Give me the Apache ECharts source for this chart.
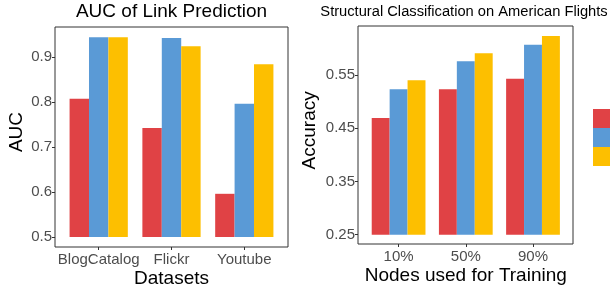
<!DOCTYPE html>
<html>
<head>
<meta charset="utf-8">
<script src="https://cdn.jsdelivr.net/npm/echarts@6/dist/echarts.min.js"></script>
<style>
  html, body { margin: 0; padding: 0; background: #fff; }
  #chart { width: 610px; height: 287px; }
</style>
</head>
<body>
<div id="chart"></div>
<script>
// methods (legend labels are cut off in the original)
const methods = ['Method A', 'Method B', 'Method C'];
const colors = ['#E04245', '#5A9AD6', '#FDBF00'];

// left panel: AUC of link prediction
const datasets = ['BlogCatalog', 'Flickr', 'Youtube'];
const aucA = [0.807, 0.742, 0.596];
const aucB = [0.944, 0.942, 0.796];
const aucC = [0.944, 0.924, 0.884];
const aucTicks = [0.5, 0.6, 0.7, 0.8, 0.9];

// right panel: structural classification
const trainSizes = ['10%', '50%', '90%'];
const accA = [0.469, 0.523, 0.543];
const accB = [0.523, 0.576, 0.607];
const accC = [0.540, 0.591, 0.623];
const accTicks = [0.25, 0.35, 0.45, 0.55];

const FONT = '"Liberation Sans", Arial, sans-serif';
const tickLabel = { color: '#4d4d4d', fontSize: 15, fontFamily: FONT };
const axisName = { color: '#000', fontSize: 19, fontFamily: FONT };

const chart = echarts.init(document.getElementById('chart'));

function bars(values, i, idx) {
  return {
    name: methods[i],
    type: 'bar',
    xAxisIndex: idx,
    yAxisIndex: idx,
    data: values,
    barGap: '0%',
    barCategoryGap: '20%',
    itemStyle: { color: colors[i] },
    silent: true
  };
}

// bar grids start at the bars' baseline; frames (grids 2,3) show the full panel
const frame = { show: true, borderColor: '#333', borderWidth: 1, backgroundColor: 'transparent', outerBoundsMode: 'none' };

chart.setOption({
  animation: false,
  title: [
    { text: 'AUC of Link Prediction', left: 171.5, top: 2, textAlign: 'center', padding: 0,
      textStyle: { fontSize: 19, fontWeight: 'normal', color: '#000', fontFamily: FONT } },
    { text: 'Structural Classification on American Flights', left: 464, top: 4, textAlign: 'center', padding: 0,
      textStyle: { fontSize: 14.7, fontWeight: 'normal', color: '#000', fontFamily: FONT } }
  ],
  legend: {
    orient: 'vertical', left: 593, top: 109, padding: 0,
    itemWidth: 19, itemHeight: 19, itemGap: 0,
    icon: 'rect', data: methods,
    textStyle: { fontSize: 14, fontFamily: FONT }
  },
  grid: [
    { left: 62.3, top: 27, width: 218.4, height: 210, outerBoundsMode: 'none', containLabel: false },
    { left: 365, top: 26, width: 201.6, height: 208.7, outerBoundsMode: 'none', containLabel: false },
    Object.assign({ left: 55, top: 27, width: 233, height: 220 }, frame),
    Object.assign({ left: 358, top: 26, width: 215, height: 218 }, frame)
  ],
  xAxis: [
    { type: 'category', gridIndex: 0, data: datasets, offset: 10,
      name: 'Datasets', nameLocation: 'middle', nameGap: 22, nameMoveOverlap: false, nameTextStyle: axisName,
      axisLine: { show: false },
      axisTick: { show: true, alignWithLabel: true, length: 3, lineStyle: { color: '#333' } },
      axisLabel: Object.assign({ margin: 5, interval: 0 }, tickLabel) },
    { type: 'category', gridIndex: 1, data: trainSizes, offset: 9.3,
      name: 'Nodes used for Training', nameLocation: 'middle', nameGap: 22, nameMoveOverlap: false, nameTextStyle: axisName,
      axisLine: { show: false },
      axisTick: { show: true, alignWithLabel: true, length: 3, lineStyle: { color: '#333' } },
      axisLabel: Object.assign({ margin: 5, interval: 0 }, tickLabel) },
    { type: 'value', gridIndex: 2, show: false },
    { type: 'value', gridIndex: 3, show: false }
  ],
  yAxis: [
    { type: 'value', gridIndex: 0, min: 0.5, max: 0.9667, offset: 7.3,
      name: 'AUC', nameLocation: 'middle', nameGap: 29, nameMoveOverlap: false, nameTextStyle: axisName,
      splitLine: { show: false }, axisLine: { show: false },
      axisTick: { show: true, length: 3, customValues: aucTicks, lineStyle: { color: '#333' } },
      axisLabel: Object.assign({ margin: 3, customValues: aucTicks, formatter: v => v.toFixed(1) }, tickLabel) },
    { type: 'value', gridIndex: 1, min: 0.25, max: 0.642, offset: 7,
      name: 'Accuracy', nameLocation: 'middle', nameGap: 39, nameMoveOverlap: false, nameTextStyle: axisName,
      splitLine: { show: false }, axisLine: { show: false },
      axisTick: { show: true, length: 3, customValues: accTicks, lineStyle: { color: '#333' } },
      axisLabel: Object.assign({ margin: 3, customValues: accTicks, formatter: v => v.toFixed(2) }, tickLabel) },
    { type: 'value', gridIndex: 2, show: false },
    { type: 'value', gridIndex: 3, show: false }
  ],
  series: [
    bars(aucA, 0, 0), bars(aucB, 1, 0), bars(aucC, 2, 0),
    bars(accA, 0, 1), bars(accB, 1, 1), bars(accC, 2, 1)
  ]
});
</script>
</body>
</html>
